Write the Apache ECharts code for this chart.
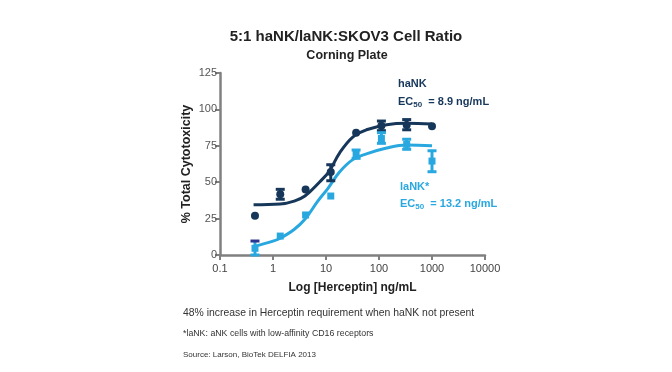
<!DOCTYPE html>
<html>
<head>
<meta charset="utf-8">
<script src="https://cdn.jsdelivr.net/npm/echarts@6/dist/echarts.min.js"></script>
<style>
html,body{margin:0;padding:0;background:#fff;}
#chart{width:672px;height:372px;}
</style>
</head>
<body>
<div id="chart"></div>
<script>
// ---- Data ----
var concentrations = [0.457, 1.37, 4.12, 12.3, 37, 111, 333, 1000];
var haNKMean = [27, 41.7, 45, 57, 84, 88.8, 89.3, 88.5];
var haNKLow  = [null, 38.3, null, 51, null, 85.4, 86, null];
var haNKHigh = [null, 45.1, null, 62, null, 92, 93, null];
var laNKMean = [4.6, 13, 27.5, 40.5, 69.5, 80, 76, 64.5];
var laNKLow  = [0, null, null, null, 66.4, 76.7, 72.6, 57.2];
var laNKHigh = [9.6, null, null, null, 72.1, 84, 79.5, 71.6];
// fitted curves
var haNKFitX = [0.43, 1.37, 2.5, 4.0, 7.5, 11.5, 18, 32, 58, 140, 330, 1000];
var haNKFitY = [34.5, 35, 37, 40.5, 50, 57.5, 70, 81, 86, 89.5, 90.5, 90];
var laNKFitX = [0.43, 1.0, 1.37, 2.5, 4.0, 7.0, 11, 18, 32, 58, 140, 330, 1000];
var laNKFitY = [5.8, 9.5, 11.5, 17.5, 24.5, 37, 46, 57, 65.5, 69.5, 73.5, 75.5, 75];
var xTickLabels = ['0.1', '1', '10', '100', '1000', '10000'];
var yTicks = [0, 25, 50, 75, 100, 125];

var NAVY = '#16375a';
var SKY = '#29a8e0';
var CAP_DARK = '#2b3590';
var AXIS = '#808080';

function pairs(xs, ys) { return xs.map(function (x, i) { return [x, ys[i]]; }); }
function errData(lo, hi, mean) {
  var out = [];
  concentrations.forEach(function (c, i) {
    if (lo[i] != null) out.push([c, mean[i], lo[i], hi[i], i]);
  });
  return out;
}
function errRender(color, firstTopCapColor) {
  return function (params, api) {
    var x = api.value(0);
    var p1 = api.coord([x, api.value(2)]);
    var p2 = api.coord([x, api.value(3)]);
    var w = 4.5;
    var st = { stroke: color, lineWidth: 3 };
    var topSt = { stroke: (firstTopCapColor && api.value(4) === 0) ? firstTopCapColor : color, lineWidth: 3 };
    return {
      type: 'group',
      children: [
        { type: 'line', shape: { x1: p1[0], y1: p1[1], x2: p2[0], y2: p2[1] }, style: st },
        { type: 'line', shape: { x1: p1[0] - w, y1: p1[1], x2: p1[0] + w, y2: p1[1] }, style: st },
        { type: 'line', shape: { x1: p2[0] - w, y1: p2[1], x2: p2[0] + w, y2: p2[1] }, style: topSt }
      ]
    };
  };
}

var FONT = 'Liberation Sans, Arial, sans-serif';
var chart = echarts.init(document.getElementById('chart'));
chart.setOption({
  backgroundColor: '#fff',
  animation: false,
  textStyle: { fontFamily: FONT },
  grid: { left: 220, right: 187, top: 73, bottom: 117, containLabel: false },
  xAxis: {
    type: 'log', logBase: 10, min: 0.1, max: 10000,
    name: 'Log [Herceptin] ng/mL', nameLocation: 'middle', nameGap: 27,
    nameTextStyle: { color: '#222', fontSize: 12, fontWeight: 'bold', fontFamily: FONT },
    axisLine: { lineStyle: { color: AXIS, width: 2.5 } },
    axisTick: { show: true, length: 5, lineStyle: { color: AXIS, width: 2 } },
    minorTick: { show: false },
    splitLine: { show: false },
    axisLabel: {
      color: '#444', fontSize: 11, margin: 8, fontFamily: FONT,
      formatter: function (v) {
        var idx = Math.round(Math.log10(v)) + 1;
        return xTickLabels[idx] != null ? xTickLabels[idx] : '';
      }
    }
  },
  yAxis: {
    type: 'value', min: 0, max: 125, interval: 25,
    name: '% Total Cytotoxicity', nameLocation: 'middle', nameGap: 27,
    nameTextStyle: { color: '#222', fontSize: 12.5, fontWeight: 'bold', fontFamily: FONT },
    axisLine: { show: true, lineStyle: { color: AXIS, width: 2.5 } },
    axisTick: { show: true, length: 5, lineStyle: { color: AXIS, width: 2 } },
    splitLine: { show: false },
    axisLabel: { color: '#555', fontSize: 11, margin: 3, fontFamily: FONT,
      formatter: function (v) { return yTicks.indexOf(v) >= 0 ? String(v) : ''; } }
  },
  title: [
    { text: '5:1 haNK/laNK:SKOV3 Cell Ratio', left: 341, top: 24, textAlign: 'center',
      textStyle: { fontSize: 15, fontWeight: 'bold', color: '#222', fontFamily: FONT } },
    { text: 'Corning Plate', left: 342, top: 44, textAlign: 'center',
      textStyle: { fontSize: 12.5, fontWeight: 'bold', color: '#222', fontFamily: FONT } }
  ],
  graphic: [
    { type: 'text', left: 398, top: 78, style: { text: 'haNK', fill: NAVY, font: 'bold 11px ' + FONT } },
    { type: 'text', left: 398, top: 96, style: {
        text: '{a|EC}{s|50}{a|  = 8.9 ng/mL}',
        rich: { a: { fill: NAVY, fontFamily: FONT, fontWeight: 'bold', fontSize: 11 },
                s: { fill: NAVY, fontFamily: FONT, fontWeight: 'bold', fontSize: 8, padding: [6, 0, 0, 0] } } } },
    { type: 'text', left: 400, top: 181, style: { text: 'laNK*', fill: SKY, font: 'bold 11px ' + FONT } },
    { type: 'text', left: 400, top: 198, style: {
        text: '{a|EC}{s|50}{a|  = 13.2 ng/mL}',
        rich: { a: { fill: SKY, fontFamily: FONT, fontWeight: 'bold', fontSize: 11 },
                s: { fill: SKY, fontFamily: FONT, fontWeight: 'bold', fontSize: 8, padding: [6, 0, 0, 0] } } } },
    { type: 'text', left: 183, top: 308, style: { text: '48% increase in Herceptin requirement when haNK not present', fill: '#333', font: '10.4px ' + FONT } },
    { type: 'text', left: 183, top: 329, style: { text: '*laNK: aNK cells with low-affinity CD16 receptors', fill: '#333', font: '8.8px ' + FONT } },
    { type: 'text', left: 183, top: 351, style: { text: 'Source: Larson, BioTek DELFIA 2013', fill: '#333', font: '8px ' + FONT } }
  ],
  series: [
    { name: 'haNK fit', type: 'line', data: pairs(haNKFitX, haNKFitY), smooth: 0.4, showSymbol: false,
      lineStyle: { color: NAVY, width: 3 }, z: 2 },
    { name: 'laNK fit', type: 'line', data: pairs(laNKFitX, laNKFitY), smooth: 0.4, showSymbol: false,
      lineStyle: { color: SKY, width: 3 }, z: 2 },
    { name: 'haNK err', type: 'custom', renderItem: errRender(NAVY), data: errData(haNKLow, haNKHigh, haNKMean),
      encode: { x: 0, y: [1, 2, 3] }, z: 3 },
    { name: 'laNK err', type: 'custom', renderItem: errRender(SKY, CAP_DARK), data: errData(laNKLow, laNKHigh, laNKMean),
      encode: { x: 0, y: [1, 2, 3] }, z: 3 },
    { name: 'haNK', type: 'scatter', data: pairs(concentrations, haNKMean), symbol: 'circle', symbolSize: 8,
      itemStyle: { color: NAVY, opacity: 1 }, z: 4 },
    { name: 'laNK', type: 'scatter', data: pairs(concentrations, laNKMean), symbol: 'rect', symbolSize: 7,
      itemStyle: { color: SKY, opacity: 1 }, z: 4 }
  ]
});
</script>
</body>
</html>
